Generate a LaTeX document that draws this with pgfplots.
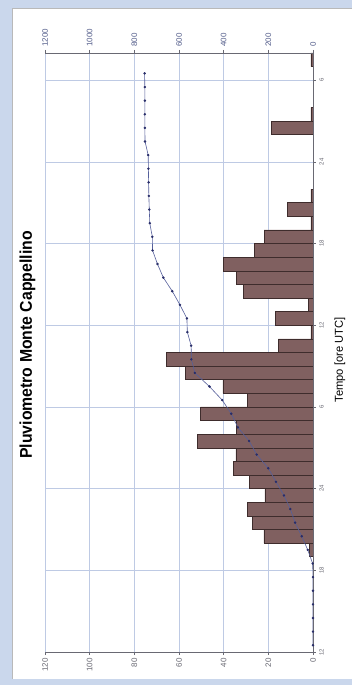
\documentclass[border=0pt]{standalone}
\usepackage{pgfplots}
\pgfplotsset{compat=1.18}
\usepackage{fontspec}
\setmainfont{Liberation Sans}
\usepackage{graphicx}
\definecolor{bg}{RGB}{202,215,236}
\definecolor{barfill}{RGB}{128,96,96}
\definecolor{baredge}{RGB}{62,44,44}
\definecolor{gridc}{RGB}{190,202,228}
\definecolor{linec}{RGB}{85,95,155}
\definecolor{markc}{RGB}{40,45,105}
\definecolor{tickc}{RGB}{105,105,115}
\definecolor{toptick}{RGB}{85,95,140}
\begin{document}
\begin{tikzpicture}
\fill[bg] (0,0) rectangle (352pt,685pt);
\fill[white] (12pt,6pt) rectangle (352pt,677pt);
\draw[gray!55, line width=0.6pt] (12pt,6pt) -- (12pt,677pt) -- (352pt,677pt);
\path[use as bounding box] (0,0) rectangle (352pt,685pt);
\begin{axis}[
  at={(45pt,33pt)}, anchor=south west,
  scale only axis, width=268pt, height=599pt,
  x dir=reverse, xmin=0, xmax=120, ymin=12, ymax=56,
  xtick={0,20,...,120}, ytick={12,18,...,54},
  yticklabels={12,18,24,6,12,18,24,6},
  axis x line*=bottom, axis y line*=right,
  xmajorgrids, ymajorgrids, grid style={gridc, line width=0.5pt},
  xticklabel style={rotate=90, anchor=east, font=\fontsize{8}{9}\selectfont, text=tickc},
  yticklabel style={rotate=90, anchor=north, font=\fontsize{6}{7}\selectfont, text=tickc},
  tick style={tickc, line width=0.4pt}, tick align=outside, major tick length=3pt,
  axis line style={tickc, line width=0.6pt},
  /pgf/number format/assume math mode=true,
  /pgf/number format/1000 sep={},
  xbar, bar width=1, bar shift=0pt,
]
\addplot[fill=barfill, draw=baredge, line width=0.5pt] coordinates {
(1.5,19.5) (22,20.5) (27,21.5) (29.5,22.5) (21.5,23.5) (28.5,24.5)
(35.7,25.5) (34.5,26.5) (51.8,27.5) (34.2,28.5) (50.3,29.5) (29.4,30.5)
(40.4,31.5) (57.3,32.5) (65.5,33.5) (15.5,34.5) (1,35.5) (17,36.5)
(2,37.5) (31.2,38.5) (34.2,39.5) (40.1,40.5) (26.4,41.5) (21.9,42.5)
(1,43.5) (11.5,44.5) (1,45.5) (18.8,50.5) (1,51.5) (1,55.5)
};
\end{axis}
\begin{axis}[
  at={(45pt,33pt)}, anchor=south west,
  scale only axis, width=268pt, height=599pt,
  x dir=reverse, xmin=0, xmax=1200, ymin=12, ymax=56,
  xtick={0,200,...,1200}, ytick=\empty,
  axis x line*=top, axis y line=none,
  xticklabel style={rotate=90, anchor=west, font=\fontsize{8}{9}\selectfont, text=toptick},
  tick style={tickc, line width=0.4pt}, tick align=outside, major tick length=3pt,
  axis line style={tickc, line width=0.6pt},
  /pgf/number format/assume math mode=true,
  /pgf/number format/1000 sep={},
]
\addplot[linec, line width=0.6pt, mark=*, mark size=0.9pt, mark options={fill=markc, draw=markc}] coordinates {
(0,12.5) (0,13.5) (0,14.5) (0,15.5) (0,16.5) (0,17.5) (1.5,18.5)
(23.5,19.5) (50.5,20.5) (80,21.5) (101.5,22.5) (130,23.5) (165.7,24.5)
(200.2,25.5) (252,26.5) (286.2,27.5) (336.5,28.5) (365.9,29.5) (406.3,30.5)
(463.6,31.5) (529.1,32.5) (544.6,33.5) (545.6,34.5) (562.6,35.5) (564.6,36.5)
(595.8,37.5) (630,38.5) (670.1,39.5) (696.5,40.5) (718.4,41.5) (719.4,42.5)
(730.9,43.5) (733,44.5) (735,45.5) (736,46.5) (737,47.5) (738,48.5)
(752,49.5) (753,50.5) (753,51.5) (753,52.5) (753,53.5) (754,54.5)
};
\end{axis}
\node[rotate=90, font=\fontsize{17}{20}\selectfont\bfseries] at (27.5pt,340pt) {\scalebox{0.93}[1]{Pluviometro Monte Cappellino}};
\node[rotate=90, font=\fontsize{11.5}{13}\selectfont] at (340pt,325pt) {\scalebox{0.97}[1]{Tempo [ore UTC]}};
\end{tikzpicture}
\end{document}
